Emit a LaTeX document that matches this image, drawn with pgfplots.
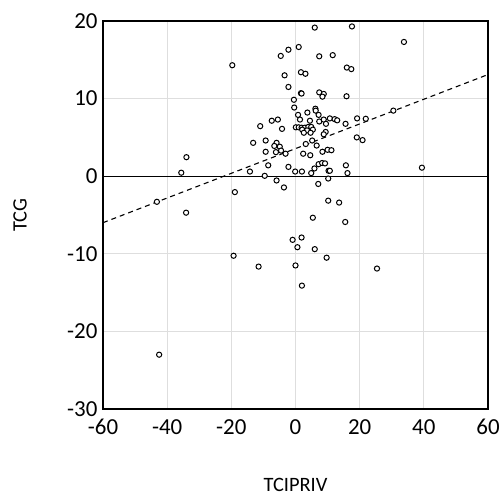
\documentclass[border=0pt]{standalone}
\usepackage{fontspec}
\setmainfont{Carlito}
\usepackage{pgfplots}
\pgfplotsset{compat=1.18}
\begin{document}
\begin{tikzpicture}
\path[use as bounding box] (-103bp,-89bp) rectangle (401bp,409bp);
\begin{axis}[
  scale only axis,
  width=385bp, height=388bp,
  at={(0,0)}, anchor=south west,
  xmin=-60, xmax=60, ymin=-30, ymax=20,
  xtick={-60,-40,...,60}, ytick={-30,-20,...,20},
  major tick length=0pt,
  grid=major,
  major grid style={draw=black!13, line width=1bp},
  axis line style={black, line width=1.4bp},
  /pgf/number format/assume math mode=true,
  tick label style={font=\fontsize{23}{26}\selectfont},
  xticklabel style={yshift=-7bp},
  yticklabel style={xshift=-2bp},
  xlabel={TCIPRIV}, ylabel={TCG},
  label style={font=\fontsize{20.5}{24}\selectfont},
  xlabel style={at={(axis description cs:0.5,-0.196)}, anchor=center},
  ylabel style={at={(axis description cs:-0.2156,0.5)}, anchor=center},
  clip=false,
]
\addplot[black, line width=1.4bp, forget plot] coordinates {(-60,0) (60,0)};
\addplot[black, line width=1.1bp, dash pattern=on 5bp off 4bp, forget plot] coordinates {(-60,-5.99) (60,13.1)};
\addplot[only marks, mark=*, mark size=2.6bp, mark options={draw=black, fill=white, line width=1bp}] table {
x y
6.0 19.15
17.6 19.3
33.8 17.3
1.0 16.65
-2.2 16.3
-4.6 15.5
7.4 15.45
11.6 15.6
-19.7 14.3
16.0 14.0
17.4 13.8
1.7 13.4
3.1 13.2
-3.4 13.0
-2.2 11.5
1.7 10.7
1.9 10.65
7.4 10.8
8.8 10.6
8.4 10.25
15.9 10.3
-0.5 9.85
-0.4 8.85
6.2 8.7
6.3 8.45
3.7 8.2
7.2 7.9
0.8 7.9
30.5 8.45
-5.5 7.3
-7.4 7.15
1.4 7.3
4.5 7.15
7.4 7.05
8.8 7.3
10.7 7.45
12.2 7.35
13.0 7.2
19.2 7.45
21.9 7.4
9.5 6.75
15.6 6.75
-11.0 6.45
0.1 6.3
1.0 6.3
1.9 6.25
2.9 6.25
4.0 6.35
4.9 6.35
5.4 6.0
2.1 6.0
3.6 5.9
2.6 5.6
4.7 5.6
-4.2 6.1
9.4 5.7
8.8 5.4
5.2 4.6
19.1 5.0
20.9 4.65
-13.2 4.3
-9.3 4.6
-5.9 4.3
3.2 4.15
6.6 3.95
-6.6 3.9
-4.9 3.8
-4.5 3.3
-9.3 3.15
-6.1 3.1
-3.1 2.9
2.4 2.9
4.6 2.7
8.4 3.15
10.0 3.4
11.2 3.35
-34.0 2.45
-8.5 1.4
-2.2 1.2
7.2 1.55
8.3 1.7
9.2 1.65
15.7 1.4
39.4 1.1
5.9 1.0
-0.1 0.6
2.0 0.6
4.9 0.4
10.3 0.7
10.7 0.7
16.2 0.4
-14.2 0.6
-35.6 0.45
-9.6 0.05
-5.9 -0.55
7.1 -1.0
10.2 -0.3
-3.6 -1.45
-18.9 -2.05
-43.2 -3.3
10.2 -3.15
13.6 -3.4
-34.1 -4.7
5.4 -5.35
15.5 -5.9
-0.9 -8.2
1.9 -7.9
0.6 -9.15
6.0 -9.4
-19.3 -10.25
9.7 -10.5
0.0 -11.5
-11.5 -11.65
25.4 -11.9
2.0 -14.1
-42.5 -23.0
};
\end{axis}
\end{tikzpicture}
\end{document}
